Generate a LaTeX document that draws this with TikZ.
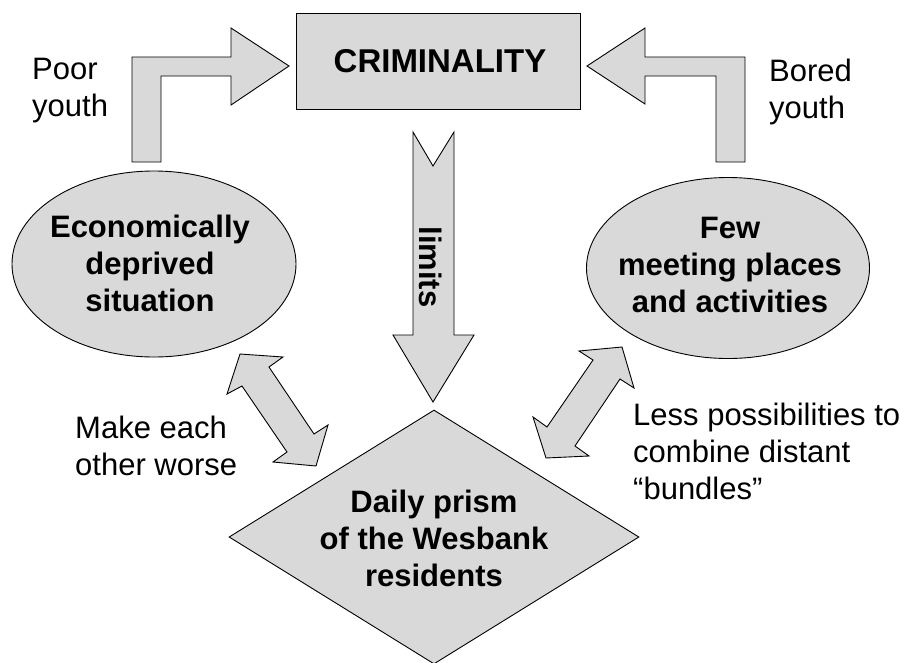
\documentclass[tikz,border=0pt]{standalone}
\usepackage{fontspec}
\setmainfont{Liberation Sans}
\usetikzlibrary{shapes.geometric}
\definecolor{boxgray}{RGB}{217,217,217}
\begin{document}
\begin{tikzpicture}[x=1pt,y=-1pt,
  shapebox/.style={draw=black,line width=0.9pt,fill=boxgray,inner sep=0pt},
  blockarrow/.style={draw=black,line width=0.9pt,fill=boxgray,line join=miter},
  boldtext/.style={font=\fontsize{31}{37}\selectfont\bfseries,align=center,inner sep=0pt},
  plaintext/.style={font=\fontsize{31}{37}\selectfont,align=left,inner sep=0pt,anchor=base west}]
\useasboundingbox (0,0) rectangle (908,662);

% main boxes (multi-line texts are placed by the baseline of their last line)
\node[shapebox,rectangle,minimum width=284pt,minimum height=96pt] (crim) at (438,61) {};
\node[boldtext,font=\fontsize{33}{39}\selectfont\bfseries] (crimtxt) at (440,61) {CRIMINALITY};

\node[shapebox,ellipse,minimum width=284pt,minimum height=186pt] (econ) at (154,264) {};
\node[boldtext,anchor=base] (econtxt) at (150,311) {Economically\\deprived\\situation};

\node[shapebox,ellipse,minimum width=283pt,minimum height=181pt] (few) at (728,268) {};
\node[boldtext,anchor=base] (fewtxt) at (730,312) {Few\\meeting places\\and activities};

\node[shapebox,diamond,minimum width=410pt,minimum height=254pt] (prism) at (434,537) {};
\node[boldtext,anchor=base] (prismtxt) at (434,586) {Daily prism\\of the Wesbank\\residents};

% bent arrows into the criminality box
\draw[blockarrow] (132,162) -- (132,57) -- (231,57) -- (231,28) -- (289,66)
  -- (231,105) -- (231,76) -- (161,76) -- (161,162) -- cycle;
\draw[blockarrow] (745,162) -- (745,57) -- (645,57) -- (645,28) -- (587,66)
  -- (645,104) -- (645,76) -- (716,76) -- (716,162) -- cycle;

% "limits" arrow down to the prism
\draw[blockarrow] (413,132) -- (433,166) -- (454,132) -- (454,335) -- (474,335)
  -- (433,402) -- (393,335) -- (413,335) -- cycle;
\node[boldtext,rotate=-90] (limits) at (431,267) {limits};

% double arrows between the ellipses and the prism
\draw[blockarrow] (240,354) -- (283,357) -- (269,367) -- (314,434) -- (328,425)
  -- (316,466) -- (273,462) -- (287,452) -- (242,386) -- (227,394) -- cycle;
\draw[blockarrow] (622,347) -- (634,388) -- (620,379) -- (575,446) -- (589,456)
  -- (546,458) -- (533,417) -- (547,427) -- (593,360) -- (579,351) -- cycle;

% side labels
\node[plaintext] (poor) at (32,116) {Poor\\youth};
\node[plaintext] (bored) at (769,118) {Bored\\youth};
\node[plaintext] (worse) at (75,475) {Make each\\other worse};
\node[plaintext] (less) at (633,499) {Less possibilities to\\combine distant\\“bundles”};
\end{tikzpicture}
\end{document}
